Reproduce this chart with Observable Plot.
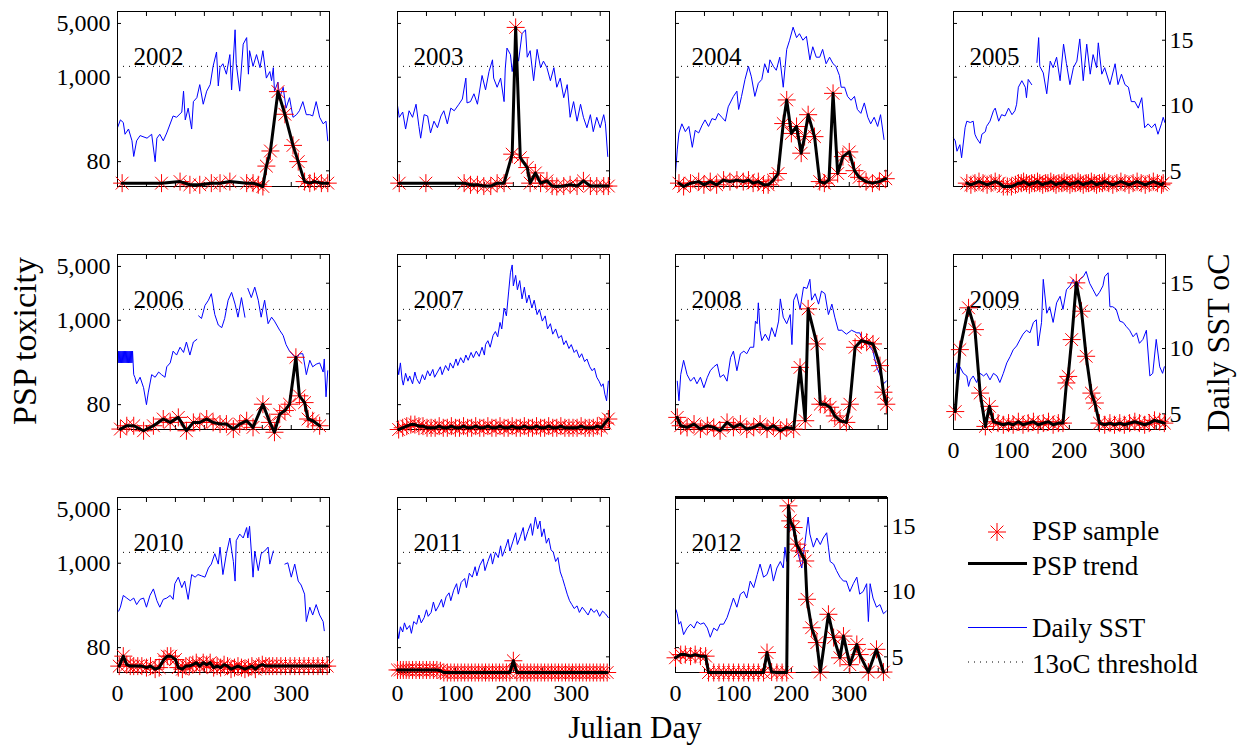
<!DOCTYPE html>
<html><head><meta charset="utf-8">
<script src="https://cdn.jsdelivr.net/npm/d3@7"></script>
<script src="https://cdn.jsdelivr.net/npm/@observablehq/plot@0.6"></script>
<style>
html,body{margin:0;padding:0;background:#fff;}
body{width:1244px;height:747px;position:relative;overflow:hidden;font-family:"Liberation Serif","Times New Roman",serif;color:#000;}
.ttl{position:absolute;white-space:nowrap;line-height:1;}
</style></head><body>
<script>
// ---------- data ----------
const years = [2002, 2003, 2004, 2005, 2006, 2007, 2008, 2009, 2010, 2011, 2012];
const dayTicks = [0, 50, 100, 150, 200, 250, 300, 350];
const dayLabels = [0, 100, 200, 300];
const pspTicks = [80, 1000, 5000];
const sstTicks = [5, 10, 15];
const threshold = 13;
const dayDomain = [0, 366];
const pspDomain = [38, 7150];
const sstDomain = [3.8, 17.2];
const offScaleTop = [2012];

const sst2002 = [[0,8.3],[5,8.9],[10,8.7],[13,7.8],[19,8.2],[25,7.3],[28,6.1],[33,7.3],[39,7.7],[51,7.5],[59,7.8],[65,5.7],[68,7.5],[73,7.8],[79,7.3],[85,7.9],[96,9.2],[102,9.1],[111,9.5],[114,11.1],[117,8.9],[122,9.8],[128,8.2],[131,10.3],[137,10.6],[142,11.6],[148,10.1],[154,11.1],[160,11.6],[165,13.0],[171,14.1],[174,11.5],[177,12.9],[182,13.2],[188,12.4],[194,13.9],[197,11.2],[203,15.8],[205,13.2],[211,11.1],[217,14.7],[223,15.2],[226,12.4],[228,14.2],[234,13.0],[240,13.9],[246,12.9],[251,14.2],[257,12.1],[263,12.6],[266,11.9],[269,12.9],[271,11.1],[277,11.8],[280,10.6],[286,11.4],[291,9.8],[297,10.6],[303,9.1],[309,9.3],[314,9.6],[320,10.3],[326,9.3],[332,9.3],[337,9.2],[343,10.3],[349,9.1],[355,8.6],[360,8.8],[363,7.3]];
const sst2003 = [[0,10.0],[3,9.1],[9,9.5],[14,8.2],[20,9.6],[26,9.1],[32,10.1],[37,8.4],[40,7.5],[46,9.3],[52,9.2],[57,7.9],[63,8.8],[69,8.3],[75,9.2],[80,9.6],[86,8.6],[92,9.8],[98,9.6],[106,10.1],[112,10.5],[118,12.1],[120,10.2],[126,10.3],[132,10.9],[138,10.1],[146,12.3],[152,11.2],[158,12.6],[164,13.5],[166,12.1],[172,11.4],[178,12.1],[184,10.3],[186,12.8],[189,14.4],[195,13.9],[198,12.6],[204,14.4],[209,13.4],[215,15.5],[221,15.8],[224,13.7],[229,14.2],[235,11.9],[241,14.3],[247,12.9],[252,13.4],[258,12.9],[264,11.9],[270,12.9],[275,11.4],[281,12.1],[287,10.6],[293,11.6],[298,9.1],[304,10.3],[310,8.8],[316,10.1],[321,9.1],[327,8.3],[333,9.3],[338,8.0],[344,9.1],[350,8.3],[356,9.3],[359,8.6],[363,6.1]];
const sst2004 = [[0,4.8],[3,6.6],[6,7.9],[11,8.6],[17,8.0],[23,8.4],[29,6.8],[34,8.1],[40,7.9],[46,8.5],[51,8.9],[57,8.4],[63,9.0],[69,8.9],[74,9.4],[80,9.1],[86,8.8],[91,9.9],[100,10.7],[106,11.1],[109,9.7],[114,10.7],[120,12.0],[126,13.0],[131,12.2],[137,10.7],[143,11.7],[149,12.0],[154,13.2],[160,12.5],[163,13.5],[169,13.0],[174,12.7],[180,13.7],[186,11.4],[192,14.3],[197,15.0],[203,16.0],[209,15.2],[214,15.5],[220,15.0],[226,15.3],[232,13.5],[237,14.5],[243,13.7],[249,13.7],[254,14.3],[260,13.2],[266,13.7],[272,13.2],[277,13.0],[283,12.3],[286,11.4],[292,11.4],[297,10.7],[303,10.4],[309,10.7],[314,9.7],[320,9.4],[326,10.2],[332,9.1],[337,8.6],[343,9.1],[349,8.4],[354,9.3],[360,7.4]];
const sst2005 = [[0,7.5],[3,7.3],[6,6.5],[11,7.0],[14,6.0],[20,8.3],[23,8.8],[29,8.7],[34,8.8],[37,7.8],[40,7.5],[46,7.1],[49,7.8],[55,8.0],[57,8.4],[63,8.8],[69,9.6],[72,9.8],[78,8.8],[83,9.3],[89,9.2],[95,9.8],[101,9.3],[106,9.6],[109,10.1],[112,11.4],[118,11.9],[124,11.4],[126,10.6],[129,12.0],[135,11.6],[139,null],[144,13.3],[147,15.2],[149,13.0],[155,12.5],[161,10.9],[167,13.4],[172,12.9],[178,13.7],[184,11.9],[190,14.7],[195,13.2],[201,11.6],[207,12.9],[213,13.4],[218,15.1],[224,11.9],[230,14.7],[236,12.4],[241,13.9],[247,12.9],[250,14.8],[256,12.4],[261,12.9],[270,11.6],[279,13.2],[284,11.6],[290,12.4],[296,11.6],[302,11.4],[307,10.3],[313,10.3],[319,9.8],[325,10.6],[330,8.3],[336,8.6],[342,8.3],[348,8.6],[353,7.8],[359,8.6],[362,9.1],[365,8.7]];
const sst2006 = [[0,9.8],[1,8.9],[2,9.8],[3,8.9],[4,9.8],[5,8.9],[6,9.8],[7,8.9],[8,9.8],[9,8.9],[10,9.8],[11,8.9],[12,9.8],[13,8.9],[14,9.8],[15,8.9],[16,9.8],[17,8.9],[18,9.8],[19,8.9],[20,9.8],[21,8.9],[22,9.8],[23,8.9],[24,9.8],[25,8.9],[26,9.8],[27,8.9],[28,8.0],[30,7.8],[33,7.3],[39,7.8],[45,7.0],[50,5.7],[53,6.6],[59,8.0],[65,7.8],[71,8.2],[76,8.0],[82,7.8],[85,8.6],[91,8.9],[96,9.8],[102,9.5],[108,10.1],[114,9.7],[119,10.5],[125,9.5],[131,10.5],[137,10.7],[138,null],[140,12.5],[145,12.3],[151,13.3],[157,13.7],[162,14.2],[168,12.6],[174,11.8],[180,11.6],[185,12.3],[191,13.7],[197,14.3],[203,13.4],[208,12.4],[214,13.9],[220,12.4],[222,null],[225,14.6],[231,13.9],[237,14.7],[243,13.7],[248,12.4],[254,13.7],[260,11.9],[266,12.4],[271,12.1],[280,11.4],[286,11.0],[291,10.3],[297,9.8],[303,9.5],[309,9.2],[314,9.6],[320,9.6],[326,8.0],[332,9.1],[337,8.6],[343,8.8],[349,8.9],[355,8.2],[357,9.2],[360,6.3],[363,8.3]];
const sst2007 = [[0,8.6],[2,8.0],[5,8.9],[8,7.6],[10,7.2],[14,8.1],[18,7.5],[21,7.9],[26,7.3],[30,8.2],[33,7.7],[38,7.3],[43,8.0],[47,7.6],[52,8.3],[56,7.9],[61,8.4],[64,7.8],[69,8.2],[74,8.6],[77,8.0],[83,8.7],[88,8.3],[91,8.9],[96,8.5],[101,9.2],[104,8.7],[109,9.3],[114,8.9],[118,9.5],[122,9.1],[127,9.7],[131,9.3],[136,9.8],[141,9.4],[146,10.1],[150,9.5],[152,10.3],[156,10.6],[160,10.1],[165,11.0],[169,11.3],[173,10.9],[177,12.0],[180,11.5],[184,13.1],[188,12.5],[192,14.4],[195,15.8],[198,16.4],[200,14.8],[204,15.6],[207,14.5],[211,15.2],[215,13.8],[219,14.7],[223,13.5],[227,14.1],[232,13.1],[236,13.7],[241,12.6],[245,13.0],[250,12.1],[255,12.5],[259,11.5],[264,11.9],[268,11.1],[273,11.5],[278,10.8],[283,11.0],[287,10.3],[291,10.6],[296,10.0],[300,10.3],[305,9.7],[309,9.9],[314,9.3],[318,9.6],[323,9.0],[327,9.2],[332,8.6],[336,8.3],[340,8.5],[344,7.8],[348,7.5],[352,7.1],[355,7.3],[358,6.5],[361,6.0],[364,7.5]];
const sst2008 = [[3,7.5],[6,6.0],[9,8.0],[14,9.1],[20,8.0],[26,7.5],[32,7.8],[37,7.3],[43,7.8],[49,7.0],[55,7.8],[60,8.3],[66,8.6],[72,8.8],[77,7.8],[83,8.0],[89,7.5],[95,9.3],[100,9.8],[106,8.3],[112,9.6],[118,9.8],[123,9.6],[129,10.1],[135,10.1],[138,12.1],[141,11.9],[143,13.5],[146,11.4],[149,10.6],[155,11.1],[161,10.6],[166,11.6],[172,10.9],[178,12.1],[181,13.8],[186,12.4],[192,11.9],[198,12.6],[201,10.3],[204,13.7],[209,14.2],[215,13.0],[221,14.7],[227,14.6],[232,15.3],[235,13.7],[241,14.2],[247,13.4],[252,14.4],[258,14.2],[264,12.6],[270,13.4],[275,12.4],[281,11.4],[287,11.4],[295,11.1],[304,11.4],[313,11.2],[318,11.2],[324,10.6],[330,10.6],[336,10.1],[341,9.8],[347,8.6],[353,8.0],[359,7.3],[364,7.5]];
const sst2009 = [[3,8.1],[6,8.9],[9,7.6],[11,8.6],[17,8.1],[23,7.9],[26,7.1],[29,7.6],[34,7.9],[40,7.4],[46,8.1],[52,7.9],[57,8.1],[63,7.6],[69,8.1],[75,7.9],[80,7.4],[86,8.1],[92,8.9],[98,9.4],[103,9.9],[109,10.2],[115,10.7],[120,11.1],[126,11.4],[132,11.2],[138,12.0],[143,12.2],[146,10.2],[152,12.0],[155,15.3],[161,12.7],[166,13.2],[172,12.0],[178,13.5],[184,14.0],[189,13.0],[195,14.5],[201,14.8],[207,15.3],[212,14.3],[218,15.3],[224,15.5],[229,15.9],[235,15.0],[241,14.5],[247,14.0],[252,14.3],[258,14.8],[261,15.5],[267,15.8],[270,13.2],[275,13.2],[281,13.0],[287,12.1],[293,12.0],[298,11.7],[304,11.4],[310,10.9],[316,11.2],[321,10.4],[327,10.7],[333,11.4],[339,7.9],[344,8.1],[350,10.7],[356,8.6],[361,8.1],[364,8.6]];
const sst2010 = [[2,8.5],[5,8.8],[10,9.7],[16,9.5],[22,9.3],[28,9.5],[33,9.0],[39,9.4],[45,9.5],[50,8.8],[56,9.7],[62,10.2],[68,9.3],[73,8.8],[79,9.4],[85,9.5],[91,9.7],[96,9.4],[99,10.6],[105,11.1],[111,10.3],[116,10.8],[122,9.4],[128,11.3],[134,11.1],[139,11.3],[145,11.2],[151,11.1],[157,11.8],[162,12.1],[168,12.9],[174,12.1],[177,13.4],[182,11.3],[188,12.9],[194,14.1],[200,12.3],[203,10.8],[205,13.9],[211,14.4],[217,14.1],[223,14.9],[225,14.1],[228,15.0],[231,13.1],[234,11.1],[237,13.1],[243,11.6],[248,12.9],[254,13.1],[260,13.4],[263,12.1],[269,13.1],[275,null],[289,12.1],[294,12.2],[300,11.1],[306,12.1],[312,10.8],[317,10.5],[323,9.8],[326,7.7],[332,8.8],[337,8.2],[343,9.0],[349,8.2],[355,7.7],[357,7.0]];
const sst2011 = [[0,7.0],[2,6.4],[5,7.3],[9,6.9],[12,7.6],[16,7.1],[21,7.4],[24,6.8],[28,7.7],[33,7.5],[37,8.2],[41,7.6],[46,8.0],[50,8.6],[53,8.1],[58,8.4],[62,9.2],[66,8.5],[71,8.9],[76,9.4],[79,8.8],[84,9.6],[89,9.9],[92,9.3],[97,10.1],[102,10.6],[105,9.8],[110,10.7],[116,11.0],[119,10.3],[124,11.4],[129,11.1],[134,11.9],[137,11.2],[142,12.0],[148,12.5],[151,11.6],[156,12.3],[161,12.9],[164,12.1],[169,13.0],[174,12.6],[178,13.5],[181,12.7],[186,13.3],[191,14.0],[194,13.1],[199,13.8],[204,14.5],[207,13.6],[212,14.2],[217,14.9],[220,13.9],[225,14.6],[230,15.2],[233,14.3],[238,15.7],[242,14.8],[246,15.4],[249,14.2],[253,14.8],[257,13.7],[261,14.1],[265,13.2],[269,13.0],[273,12.3],[277,12.6],[281,11.5],[285,11.0],[289,10.4],[293,9.8],[297,9.3],[301,9.0],[305,8.7],[310,8.9],[314,8.4],[319,8.8],[324,8.5],[329,8.2],[334,8.7],[339,8.4],[344,8.6],[349,8.1],[354,8.5],[359,8.3],[364,8.0]];
const sst2012 = [[1,8.6],[3,8.3],[6,7.5],[9,7.7],[14,6.7],[20,7.2],[26,7.5],[32,7.2],[37,7.7],[43,7.5],[49,7.6],[55,7.2],[60,6.5],[66,7.2],[72,7.0],[77,7.5],[83,7.5],[89,8.0],[95,8.8],[100,9.5],[106,8.8],[112,9.8],[118,10.0],[123,9.5],[129,10.8],[135,10.3],[141,11.3],[146,12.1],[152,11.1],[158,11.3],[164,12.1],[169,10.8],[175,11.8],[181,12.3],[186,11.8],[189,13.4],[192,12.3],[195,14.4],[198,15.2],[204,14.6],[209,13.4],[215,12.3],[218,11.8],[229,15.7],[232,14.4],[238,13.4],[244,14.1],[250,13.6],[255,14.1],[261,14.5],[264,13.4],[267,12.3],[273,12.1],[278,11.6],[284,11.1],[290,10.8],[295,10.8],[301,10.0],[307,10.6],[313,11.1],[318,9.8],[324,10.0],[330,10.6],[333,7.7],[336,10.6],[341,9.5],[347,8.8],[353,9.0],[359,8.3],[364,8.5]];

const psp2002 = [[8,42],[76,42],[108,44],[125,40],[142,40],[162,42],[177,42],[194,44],[223,42],[234,42],[243,40],[251,38],[257,70],[264,110],[277,650],[289,330],[303,130],[312,80],[323,44],[332,42],[340,44],[352,42],[363,42]];
const psp2003 = [[3,42],[49,42],[115,42],[126,40],[138,40],[149,38.5],[161,38.5],[172,42],[184,42],[198,100],[204,4440],[212,90],[224,67],[229,42],[238,57],[247,42],[258,45],[267,38.5],[275,38],[287,38.5],[298,40],[310,38.5],[321,45],[333,38.5],[344,38.5],[356,38.5],[364,38.5]];
const psp2004 = [[6,42],[14,38],[26,42],[40,44],[49,40],[60,44],[71,40],[83,46],[94,44],[106,46],[117,44],[126,46],[134,42],[143,44],[152,40],[160,40],[169,46],[177,56],[186,250],[192,507],[200,186],[209,229],[217,103],[223,169],[229,326],[240,169],[249,44],[257,42],[265,46],[272,617],[280,56],[289,93],[300,107],[309,61],[317,50],[329,44],[340,42],[352,44],[363,48]];
const psp2005 = [[23,42],[30,40],[37,42],[44,44],[51,42],[58,40],[65,42],[72,44],[79,42],[86,38],[93,38],[100,38],[107,40],[112,42],[117,42],[121,44],[126,42],[131,40],[135,42],[140,42],[145,44],[149,42],[154,40],[159,42],[163,42],[168,44],[173,42],[177,40],[182,42],[187,42],[191,44],[196,42],[201,40],[205,42],[210,42],[215,44],[219,42],[224,40],[229,42],[233,42],[238,44],[243,42],[247,40],[252,42],[257,42],[261,44],[268,42],[275,40],[282,42],[289,44],[296,42],[303,40],[310,42],[317,44],[324,42],[331,40],[338,42],[345,44],[352,42],[359,40],[362,42]];
const psp2006 = [[5,38.5],[16,42.5],[28,42.5],[45,36.6],[62,42.5],[79,52],[91,47],[105,54.6],[119,36.6],[131,47],[142,47],[154,52],[165,47],[177,44.7],[188,44.7],[200,38.5],[211,44.7],[223,49.4],[234,40.5],[251,81],[263,47],[271,35],[280,60],[289,67],[297,81],[308,330],[314,104],[323,85],[329,52],[337,49.4],[349,42.5]];
const psp2007 = [[2,38],[9,40],[16,42],[23,44],[30,44],[37,42],[44,42],[51,40],[58,40],[65,40],[72,42],[79,40],[86,40],[93,42],[100,40],[107,40],[114,42],[121,40],[128,40],[135,42],[142,40],[149,40],[156,42],[163,40],[170,40],[177,42],[184,40],[191,40],[198,42],[205,40],[212,40],[219,42],[226,40],[233,40],[240,42],[247,40],[254,40],[261,42],[268,40],[275,40],[282,42],[289,40],[296,40],[303,40],[310,40],[317,42],[324,40],[331,40],[338,40],[345,42],[352,40],[358,46],[364,52]];
const psp2008 = [[3,54.6],[9,42.5],[20,40.5],[32,44.7],[43,38.5],[55,42.5],[66,40.5],[77,36.6],[89,47],[100,40.5],[112,44.7],[123,38.5],[135,40.5],[146,44.7],[158,38.5],[169,42.5],[181,36.6],[192,40.5],[204,38.5],[215,244],[224,49.4],[229,1406],[244,492],[250,81],[258,81],[267,74],[275,57],[284,49.4],[295,47],[301,81],[310,445],[321,543],[330,517],[341,492],[353,257],[359,116],[364,81]];
const psp2009 = [[3,65],[11,415],[26,1450],[37,755],[46,113],[55,41.7],[62,76],[69,48],[77,46],[86,43.8],[95,46],[103,43.8],[112,48],[120,43.8],[129,46],[138,48],[146,43.8],[155,46],[164,48],[172,43.8],[181,46],[189,46],[195,153],[198,186],[204,560],[212,3060],[221,1310],[229,340],[238,113],[244,84],[252,46],[261,43.8],[270,46],[278,43.8],[287,46],[295,43.8],[304,46],[313,48],[321,46],[330,43.8],[338,46],[347,50],[356,48],[364,46]];
const psp2010 = [[3,46],[10,62],[16,48],[22,46],[28,46],[35,46],[42,46],[50,44],[57,46],[65,42],[72,44],[80,56],[86,62],[92,62],[100,56],[105,44],[112,42],[118,46],[124,46],[130,48],[136,51],[142,46],[148,51],[154,48],[160,51],[166,44],[172,46],[178,44],[184,48],[190,46],[196,42],[202,44],[208,46],[214,44],[220,42],[226,44],[232,46],[238,42],[244,46],[250,48],[256,46],[262,46],[268,46],[275,46],[282,46],[290,46],[298,46],[306,46],[314,46],[322,46],[330,46],[338,46],[346,46],[354,46],[362,46]];
const psp2011 = [[0,41],[5,41],[10,41],[15,41],[20,41],[26,41],[32,41],[38,41],[44,41],[50,41],[56,41],[62,41],[68,41],[74,40],[80,38],[86,38],[92,38],[98,38],[104,38],[110,38],[116,38],[122,38],[128,38],[134,38],[140,38],[146,38],[152,38],[158,38],[164,38],[170,38],[176,38],[182,38],[188,38],[194,38],[200,54],[206,38],[212,38],[218,38],[224,38],[230,38],[236,38],[242,38],[248,38],[254,38],[260,38],[266,38],[272,38],[278,38],[284,38],[290,38],[296,38],[302,38],[308,38],[314,38],[320,38],[326,38],[332,38],[338,38],[344,38],[350,38],[356,38],[362,38]];
const psp2012 = [[0,59],[9,65],[17,65],[26,62],[34,65],[43,62],[52,62],[57,38],[66,38],[75,38],[83,38],[92,38],[100,38],[109,38],[118,38],[126,38],[135,38],[143,38],[152,38],[158,69],[166,38.5],[175,38],[184,38],[192,38],[195,5570],[198,3550],[204,2910],[209,1770],[215,1445],[224,1070],[227,340],[235,145],[244,93],[250,38.5],[264,217],[273,108],[284,59],[290,113],[301,48],[313,88],[318,65],[333,38.5],[347,76],[359,38.5]];

const sstByYear = {2002:sst2002,2003:sst2003,2004:sst2004,2005:sst2005,2006:sst2006,2007:sst2007,2008:sst2008,2009:sst2009,2010:sst2010,2011:sst2011,2012:sst2012};
const pspByYear = {2002:psp2002,2003:psp2003,2004:psp2004,2005:psp2005,2006:psp2006,2007:psp2007,2008:psp2008,2009:psp2009,2010:psp2010,2011:psp2011,2012:psp2012};

// ---------- layout ----------
const PW = 212, PH = 175, ML = 80, MR = 50, MT = 10, MB = 40;
const colLeft = [117, 397, 675, 953];
const rowTop = [11, 254, 497];
const FONT = '"Liberation Serif","Times New Roman",serif';

const star8 = {
  draw(ctx, size) {
    const r = Math.sqrt(size / Math.PI), d = r * Math.SQRT1_2;
    ctx.moveTo(-r, 0); ctx.lineTo(r, 0);
    ctx.moveTo(0, -r); ctx.lineTo(0, r);
    ctx.moveTo(-d, -d); ctx.lineTo(d, d);
    ctx.moveTo(-d, d); ctx.lineTo(d, -d);
  }
};

function place(svg, left, top) {
  svg.style.position = "absolute";
  svg.style.left = left + "px";
  svg.style.top = top + "px";
  document.body.appendChild(svg);
}

years.forEach((year, i) => {
  const col = i % 4, row = Math.floor(i / 4);
  const showLeft = col === 0;
  const showRight = col === 3 || i === years.length - 1;
  const showBottom = row === 2 || (row === 1 && col === 3);
  const common = {
    width: PW + ML + MR, height: PH + MT + MB,
    marginLeft: ML, marginRight: MR, marginTop: MT, marginBottom: MB,
    style: {fontFamily: FONT, fontSize: "24px", background: "transparent", overflow: "visible", maxWidth: "none", color: "#000"}
  };
  const sstPlot = Plot.plot({
    ...common,
    x: {domain: dayDomain, axis: null},
    y: {domain: sstDomain},
    marks: [
      Plot.ruleY([threshold], {stroke: "#000", strokeWidth: 1, strokeDasharray: "1,5"}),
      Plot.line(sstByYear[year], {x: d => d[0], y: d => d[1], stroke: "#0000ff", strokeWidth: 1}),
      Plot.axisY(sstTicks, {anchor: "right", tickSize: -4, fill: "none", label: null}),
      showRight ? Plot.axisY(sstTicks, {anchor: "right", tickSize: 0, tickPadding: 4, label: null}) : null
    ]
  });
  const pspPlot = Plot.plot({
    ...common,
    x: {domain: dayDomain},
    y: {type: "log", domain: pspDomain},
    marks: [
      Plot.frame({stroke: "#000", strokeWidth: 1}),
      Plot.axisX(dayTicks, {anchor: "bottom", tickSize: -4, fill: "none", label: null}),
      Plot.axisX(dayTicks, {anchor: "top", tickSize: -4, fill: "none", label: null}),
      Plot.axisY(pspTicks, {anchor: "left", tickSize: -4, fill: "none", label: null}),
      showBottom ? Plot.axisX(dayLabels, {anchor: "bottom", tickSize: 0, tickPadding: 11, label: null}) : null,
      showLeft ? Plot.axisY(pspTicks, {anchor: "left", ticks: Infinity, tickSize: 0, tickPadding: 7, tickFormat: d3.format(","), label: null}) : null,
      Plot.text([year], {frameAnchor: "top-left", dx: 16, dy: 36, textAnchor: "start", fontSize: 25, text: d => String(d)}),
      Plot.dot(pspByYear[year], {x: d => d[0], y: d => d[1], symbol: star8, r: 9, stroke: "#ff0000", strokeWidth: 1, fill: "none"}),
      Plot.line(pspByYear[year], {x: d => d[0], y: d => d[1], stroke: "#000", strokeWidth: 3}),
      offScaleTop.includes(year) ? Plot.ruleY([pspDomain[1]], {stroke: "#000", strokeWidth: 3}) : null
    ]
  });
  place(sstPlot, colLeft[col] - ML, rowTop[row] - MT);
  place(pspPlot, colLeft[col] - ML, rowTop[row] - MT);
});

// ---------- legend ----------
const leg = d3.create("svg").attr("width", 344).attr("height", 220)
  .style("position", "absolute").style("left", "900px").style("top", "480px")
  .style("overflow", "visible").style("font-family", FONT).style("font-size", "27px");
leg.append("path").attr("transform", "translate(97,52)").attr("d", d3.symbol(star8, 81 * Math.PI)())
  .attr("stroke", "#ff0000").attr("fill", "none").attr("stroke-width", 1);
leg.append("line").attr("x1", 68).attr("x2", 127).attr("y1", 83.5).attr("y2", 83.5).attr("stroke", "#000").attr("stroke-width", 3);
leg.append("line").attr("x1", 68).attr("x2", 127).attr("y1", 147.5).attr("y2", 147.5).attr("stroke", "#0000ff").attr("stroke-width", 1);
leg.append("line").attr("x1", 68).attr("x2", 127).attr("y1", 182).attr("y2", 182).attr("stroke", "#000").attr("stroke-width", 1).attr("stroke-dasharray", "1,5");
const legText = [["PSP sample", 60], ["PSP trend", 95], ["Daily SST", 157], ["13oC threshold", 193]];
legText.forEach(([t, y]) => leg.append("text").attr("x", 132).attr("y", y).text(t));
document.body.appendChild(leg.node());

// ---------- axis titles ----------
function title(text, cx, cy, rot, size) {
  const d = document.createElement("div");
  d.className = "ttl";
  d.textContent = text;
  d.style.fontSize = size + "px";
  d.style.left = cx + "px";
  d.style.top = cy + "px";
  d.style.transform = `translate(-50%,-50%)${rot ? " rotate(-90deg)" : ""}`;
  document.body.appendChild(d);
}
title("PSP toxicity", 25, 341, true, 34);
title("Daily SST oC", 1218, 343, true, 32);
title("Julian Day", 635, 727, false, 31);
</script>
</body></html>
